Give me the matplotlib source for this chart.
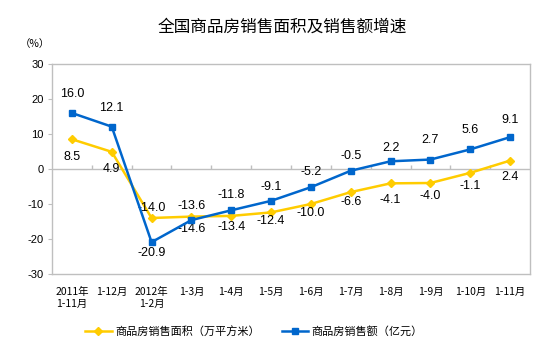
import matplotlib
matplotlib.use("Agg")
import matplotlib.pyplot as plt
import numpy as np

plt.rcParams['font.family'] = ['Liberation Sans', 'Noto Sans CJK SC', 'DejaVu Sans']

title = "全国商品房销售面积及销售额增速"
unit = "（%）"
categories = ["2011年\n1-11月", "1-12月", "2012年\n1-2月", "1-3月", "1-4月", "1-5月",
              "1-6月", "1-7月", "1-8月", "1-9月", "1-10月", "1-11月"]
area_name = "商品房销售面积（万平方米）"
sales_name = "商品房销售额（亿元）"
area = [8.5, 4.9, -14.0, -13.6, -13.4, -12.4, -10.0, -6.6, -4.1, -4.0, -1.1, 2.4]
sales = [16.0, 12.1, -20.9, -14.6, -11.8, -9.1, -5.2, -0.5, 2.2, 2.7, 5.6, 9.1]
yticks = [-30, -20, -10, 0, 10, 20, 30]

# label offsets (pixels, + = up)
area_off = [-17.5, -17, 10, 11, -10.7, -9, -9.3, -10, -16.5, -13, -13, -16.7]
sales_off = [19, 19, -11, -9, 15, 14, 15, 15, 13, 20, 19, 17]

YELLOW = "#FFCC00"
BLUE = "#0066CC"
GRAY = "#BFBFBF"

fig = plt.figure(figsize=(5.54, 3.52), dpi=100)
ax = fig.add_axes([52/554, 1-274/352, (530-52)/554, (274-64)/352])

x = np.arange(len(categories))
la, = ax.plot(x, area, color=YELLOW, lw=1.8, marker="D", ms=4.5, label=area_name, zorder=3)
lb, = ax.plot(x, sales, color=BLUE, lw=1.8, marker="s", ms=4.5, label=sales_name, zorder=4)

px = 72/100
for xi, v, o in zip(x, area, area_off):
    ax.annotate(f"{v:.1f}", (xi, v), xytext=(0, o*px), textcoords="offset points",
                ha="center", va="center", fontsize=9, family=['Liberation Sans'])
for xi, v, o in zip(x, sales, sales_off):
    ax.annotate(f"{v:.1f}", (xi, v), xytext=(0, o*px), textcoords="offset points",
                ha="center", va="center", fontsize=9, family=['Liberation Sans'])

ax.set_xlim(-0.5, len(categories) - 0.5)
ax.set_ylim(-30, 30)
ax.set_yticks(yticks)
ax.set_yticklabels([str(t) for t in yticks], fontsize=8)
ax.set_xticks(x)
ax.set_xticklabels(categories, fontsize=7.5, family=['Noto Sans CJK SC'], linespacing=1.3)
ax.tick_params(axis="x", length=0, pad=9)
ax.tick_params(axis="y", length=3, color=GRAY, pad=3)
for s in ax.spines.values():
    s.set_color(GRAY)
    s.set_linewidth(1)

ax.axhline(0, color=GRAY, lw=1, zorder=1)
bounds = np.arange(len(categories) + 1) - 0.5
ax.vlines(bounds[1:-1], 0, 1.2, color=GRAY, lw=1, zorder=1)

fig.text(282/554, 1-27/352, title, ha="center", va="center", fontsize=12,
         fontweight="medium", family=['Noto Sans CJK SC'])
fig.text(35/554, 1-44/352, unit, ha="center", va="center", fontsize=7.5,
         family=['Noto Sans CJK SC'])

fig.legend(handles=[la, lb], loc="center", bbox_to_anchor=(254/554, 1-331/352), ncol=2,
           frameon=False, prop={'family': 'Noto Sans CJK SC', 'size': 8},
           handlelength=2.4, columnspacing=2.0, handletextpad=0.3)

fig.savefig("out.png", dpi=100)
